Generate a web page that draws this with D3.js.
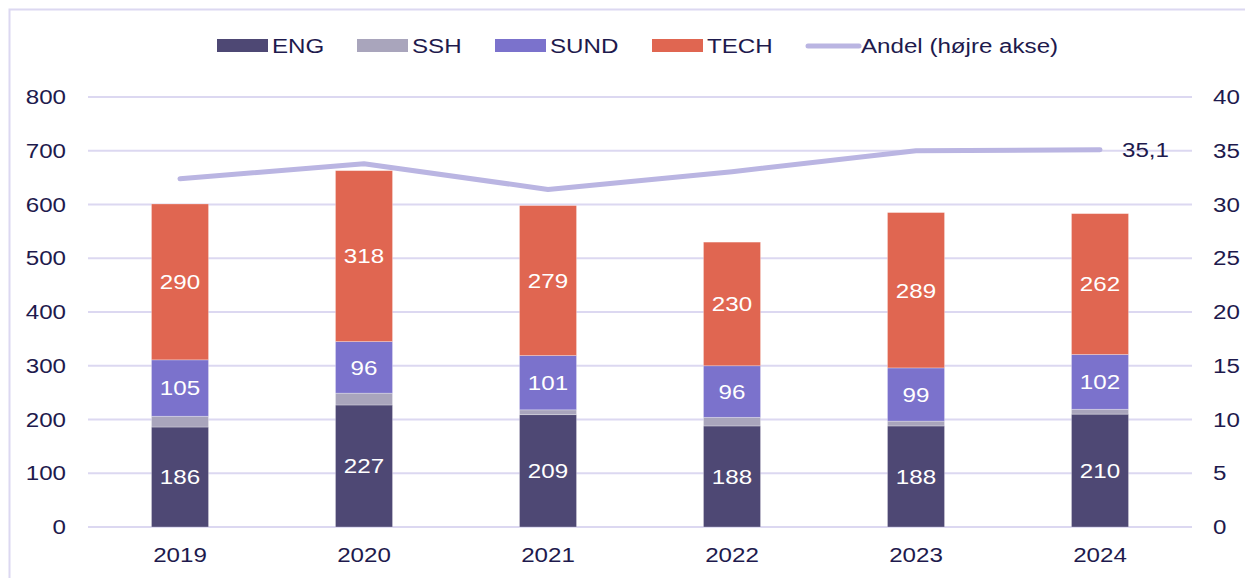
<!DOCTYPE html>
<html>
<head>
<meta charset="utf-8">
<script src="https://cdn.jsdelivr.net/npm/d3@7"></script>
<style>
  body { margin: 0; background: #fff; }
  svg { display: block; font-family: "Liberation Sans", Arial, sans-serif; }
</style>
</head>
<body>
<svg width="1245" height="578"></svg>
<script>
(function () {
  "use strict";
  const years = ["2019", "2020", "2021", "2022", "2023", "2024"];
  const eng = [186, 227, 209, 188, 188, 210];
  const ssh = [20, 22, 9, 16, 9, 9];
  const sund = [105, 96, 101, 96, 99, 102];
  const tech = [290, 318, 279, 230, 289, 262];
  const andel = [32.4, 33.8, 31.4, 33.05, 35.0, 35.1];
  const leftTicks = [0, 100, 200, 300, 400, 500, 600, 700, 800];
  const rightTicks = [0, 5, 10, 15, 20, 25, 30, 35, 40];

  const series = [
    { key: "ENG", values: eng, color: "#4e4874", label: true },
    { key: "SSH", values: ssh, color: "#a9a5bc", label: false },
    { key: "SUND", values: sund, color: "#7b72cc", label: true },
    { key: "TECH", values: tech, color: "#e06651", label: true }
  ];
  const lineColor = "#bab5e2";
  const textColor = "#1e1a4d";
  const gridColor = "#dcd8f1";
  const fontSize = "21px";
  const stretchX = 1.15;

  // the reference text is a bit wider than Liberation Sans
  const stretch = (sel) => {
    sel.each(function () {
      const t = d3.select(this);
      const x = +t.attr("x") || 0;
      t.attr("x", x / stretchX).attr("transform", `scale(${stretchX},1)`);
    });
  };

  const svg = d3.select("svg");
  const margin = { top: 97, right: 53, bottom: 51, left: 88 };
  const innerWidth = 1245 - margin.left - margin.right;
  const innerHeight = 578 - margin.top - margin.bottom;

  // frame
  svg.append("rect")
    .attr("x", 9.5).attr("y", 9.5)
    .attr("width", 1300).attr("height", 700)
    .attr("fill", "none")
    .attr("stroke", gridColor)
    .attr("stroke-width", 2);

  const g = svg.append("g")
    .attr("transform", `translate(${margin.left},${margin.top})`);

  const xScale = d3.scaleBand().domain(years).range([0, innerWidth]).paddingInner(0.69).paddingOuter(0.345);
  const yLeft = d3.scaleLinear().domain([0, 800]).range([innerHeight, 0]);
  const yRight = d3.scaleLinear().domain([0, 40]).range([innerHeight, 0]);

  // gridlines
  g.append("g")
    .selectAll("line")
    .data(leftTicks)
    .enter()
    .append("line")
    .attr("x1", 0).attr("x2", innerWidth)
    .attr("y1", (d) => yLeft(d)).attr("y2", (d) => yLeft(d))
    .attr("stroke", gridColor)
    .attr("stroke-width", 2);

  // left axis
  const leftAxis = g.append("g")
    .call(d3.axisLeft(yLeft).tickValues(leftTicks).tickSize(0).tickPadding(22));
  leftAxis.select(".domain").remove();
  leftAxis.selectAll("text")
    .attr("fill", textColor).style("font-size", fontSize)
    .call(stretch);

  // right axis
  const rightAxis = g.append("g")
    .attr("transform", `translate(${innerWidth},0)`)
    .call(d3.axisRight(yRight).tickValues(rightTicks).tickSize(0).tickPadding(21));
  rightAxis.select(".domain").remove();
  rightAxis.selectAll("text")
    .attr("fill", textColor).style("font-size", fontSize)
    .call(stretch);

  // x axis
  const xAxis = g.append("g")
    .attr("transform", `translate(0,${innerHeight})`)
    .call(d3.axisBottom(xScale).tickSize(0).tickPadding(20));
  xAxis.select(".domain").remove();
  xAxis.selectAll("text")
    .attr("fill", textColor).style("font-size", fontSize)
    .call(stretch);

  // stacked bars
  const rows = years.map((y, i) => {
    const r = { year: y };
    series.forEach((s) => { r[s.key] = s.values[i]; });
    return r;
  });
  const stacked = d3.stack().keys(series.map((s) => s.key))(rows);

  stacked.forEach((layer, li) => {
    const s = series[li];
    const lg = g.append("g");
    lg.selectAll("rect")
      .data(layer)
      .enter()
      .append("rect")
      .attr("x", (d) => xScale(d.data.year))
      .attr("y", (d) => yLeft(d[1]))
      .attr("width", xScale.bandwidth())
      .attr("height", (d) => yLeft(d[0]) - yLeft(d[1]))
      .attr("fill", s.color)
      .attr("stroke", "#ffffff")
      .attr("stroke-opacity", 0.35)
      .attr("stroke-width", 0.8);
    if (s.label) {
      lg.selectAll("text")
        .data(layer)
        .enter()
        .append("text")
        .attr("x", (d) => xScale(d.data.year) + xScale.bandwidth() / 2)
        .attr("y", (d) => (yLeft(d[0]) + yLeft(d[1])) / 2)
        .attr("dy", "0.35em")
        .attr("text-anchor", "middle")
        .attr("fill", "#ffffff")
        .style("font-size", fontSize)
        .text((d) => d[1] - d[0])
        .call(stretch);
    }
  });

  // line
  const line = d3.line()
    .x((d, i) => xScale(years[i]) + xScale.bandwidth() / 2)
    .y((d) => yRight(d));
  g.append("path")
    .datum(andel)
    .attr("d", line)
    .attr("fill", "none")
    .attr("stroke", lineColor)
    .attr("stroke-width", 5)
    .attr("stroke-linecap", "round")
    .attr("stroke-linejoin", "round");

  const last = andel.length - 1;
  g.append("text")
    .attr("x", xScale(years[last]) + xScale.bandwidth() / 2 + 22)
    .attr("y", yRight(andel[last]))
    .attr("dy", "0.35em")
    .attr("fill", textColor)
    .style("font-size", fontSize)
    .text(d3.format(".1f")(andel[last]).replace(".", ","))
    .call(stretch);

  // legend
  const legendItems = [
    { label: "ENG", color: series[0].color, x: 217, type: "rect" },
    { label: "SSH", color: series[1].color, x: 357, type: "rect" },
    { label: "SUND", color: series[2].color, x: 495, type: "rect" },
    { label: "TECH", color: series[3].color, x: 652, type: "rect" },
    { label: "Andel (højre akse)", color: lineColor, x: 806, type: "line" }
  ];
  const legend = svg.append("g").attr("transform", "translate(0,46)");
  legendItems.forEach((it) => {
    if (it.type === "rect") {
      legend.append("rect")
        .attr("x", it.x).attr("y", -7)
        .attr("width", 51).attr("height", 13)
        .attr("fill", it.color);
    } else {
      legend.append("line")
        .attr("x1", it.x + 2).attr("x2", it.x + 53)
        .attr("y1", 0).attr("y2", 0)
        .attr("stroke", it.color)
        .attr("stroke-width", 5)
        .attr("stroke-linecap", "round");
    }
    legend.append("text")
      .attr("x", it.x + 55)
      .attr("y", 0)
      .attr("dy", "0.35em")
      .attr("fill", textColor)
      .style("font-size", fontSize)
      .text(it.label)
      .call(stretch);
  });
})();
</script>
</body>
</html>
